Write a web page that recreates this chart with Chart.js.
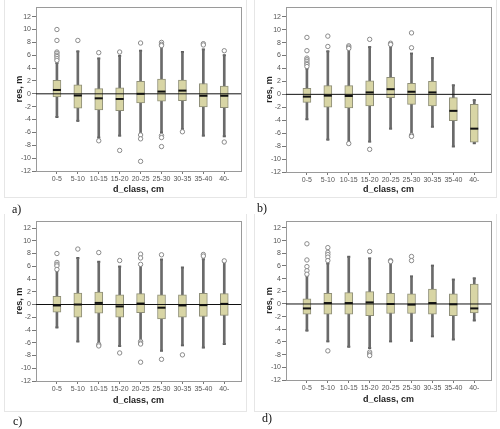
<!DOCTYPE html>
<html>
<head>
<meta charset="utf-8">
<script src="https://cdn.jsdelivr.net/npm/chart.js@4.4.1/dist/chart.umd.min.js"></script>
<style>
  body { margin: 0; background: #fff; width: 500px; height: 429px; position: relative; overflow: hidden; }
  .panel { position: absolute; width: 250px; height: 214px; }
  .panel canvas { position: absolute; left: 0; top: 0; }
  .frame { position: absolute; left: 4px; top: 0; width: 241px; height: 197px; border: 1px solid #e6e6e6; border-top: none; }
  .lbl { position: absolute; font: 12px 'Liberation Serif', serif; color: #111; }
</style>
</head>
<body>
<div class="panel" style="left:0;top:0"><div class="frame"></div><canvas id="pa" width="250" height="214"></canvas></div>
<div class="panel" style="left:250px;top:0"><div class="frame"></div><canvas id="pb" width="250" height="214"></canvas></div>
<div class="panel" style="left:0;top:214px"><div class="frame"></div><canvas id="pc" width="250" height="214"></canvas></div>
<div class="panel" style="left:250px;top:214px"><div class="frame"></div><canvas id="pd" width="250" height="214"></canvas></div>
<div class="lbl" style="left:12px;top:202px">a)</div>
<div class="lbl" style="left:257px;top:201px">b)</div>
<div class="lbl" style="left:13px;top:414px">c)</div>
<div class="lbl" style="left:262px;top:411px">d)</div>

<script>
// diameter classes
const cats = ['0-5', '5-10', '10-15', '15-20', '20-25', '25-30', '30-35', '35-40', '40-'];
const yTicks = [-12, -10, -8, -6, -4, -2, 0, 2, 4, 6, 8, 10, 12];

// panel a
const aLow  = [-3.6, -4.2, -6.8, -6.5, -6.2, -6.0, -5.5, -6.5, -6.6];
const aQ1   = [-0.5, -2.25, -2.5, -2.6, -1.4, -1.15, -1.05, -2.05, -2.15];
const aMed  = [0.6, -0.26, -0.7, -0.8, 0, 0.35, 0.5, -0.3, -0.3];
const aQ3   = [2.1, 1.4, 0.8, 0.95, 1.95, 2.3, 2.15, 1.6, 1.2];
const aHigh = [4.8, 6.6, 5.5, 5.9, 6.7, 7.6, 6.5, 6.9, 6.0];
const aOut = [
  ['0-5', 10], ['0-5', 8.3], ['0-5', 6.5], ['0-5', 6.3], ['0-5', 6.0], ['0-5', 5.8], ['0-5', 5.5], ['0-5', 5.2],
  ['5-10', 8.3],
  ['10-15', 6.4], ['10-15', -7.3],
  ['15-20', 6.5], ['15-20', -8.8],
  ['20-25', 7.9], ['20-25', -6.4], ['20-25', -7.0], ['20-25', -10.5],
  ['25-30', 8.0], ['25-30', 7.7], ['25-30', 7.5], ['25-30', -6.5], ['25-30', -6.8], ['25-30', -8.2],
  ['30-35', -5.9],
  ['35-40', 7.8], ['35-40', 7.6],
  ['40-', 6.7], ['40-', -7.5]
];

// panel b
const bLow  = [-3.85, -7.0, -7.4, -7.3, -5.3, -6.1, -5.0, -8.05, -7.55];
const bQ1   = [-1.25, -2.0, -2.1, -1.8, -0.5, -1.55, -1.8, -4.05, -7.4];
const bMed  = [-0.35, -0.2, -0.25, 0.3, 0.8, 0.4, 0.3, -2.55, -5.3];
const bQ3   = [0.95, 1.35, 1.35, 2.1, 2.65, 1.7, 2.0, -0.5, -1.55];
const bHigh = [4.0, 6.65, 7.0, 7.3, 7.4, 6.3, 5.6, 1.4, -0.9];
const bOut = [
  ['0-5', 8.8], ['0-5', 6.75], ['0-5', 5.6], ['0-5', 5.35], ['0-5', 5.1], ['0-5', 4.8], ['0-5', 4.6], ['0-5', 4.3],
  ['5-10', 9.0], ['5-10', 7.4],
  ['10-15', 7.5], ['10-15', 7.3], ['10-15', 7.1], ['10-15', -7.6],
  ['15-20', 8.5], ['15-20', -8.5],
  ['20-25', 7.9], ['20-25', 7.7],
  ['25-30', 9.5], ['25-30', 7.2], ['25-30', -6.3], ['25-30', -6.5]
];

// panel c
const cLow  = [-3.6, -5.8, -6.05, -6.5, -5.7, -7.25, -6.4, -6.75, -6.2];
const cQ1   = [-1.2, -2.0, -1.35, -2.0, -1.3, -2.25, -2.0, -1.85, -1.7];
const cMed  = [-0.15, 0, 0.25, -0.3, 0.15, -0.5, -0.15, -0.1, 0.1];
const cQ3   = [1.3, 1.8, 1.95, 1.5, 1.7, 1.5, 1.5, 1.75, 1.7];
const cHigh = [5.3, 7.3, 6.7, 5.95, 6.1, 7.05, 5.8, 7.1, 6.7];
const cOut = [
  ['0-5', 8.0], ['0-5', 6.6], ['0-5', 6.3], ['0-5', 6.05], ['0-5', 5.5],
  ['5-10', 8.7],
  ['10-15', 8.15], ['10-15', -6.3], ['10-15', -6.5],
  ['15-20', 6.9], ['15-20', -7.6],
  ['20-25', 7.9], ['20-25', 7.3], ['20-25', 6.3], ['20-25', -5.8], ['20-25', -6.05], ['20-25', -6.2], ['20-25', -9.05],
  ['25-30', 7.8], ['25-30', -8.6],
  ['30-35', -7.9],
  ['35-40', 7.85], ['35-40', 7.6],
  ['40-', 6.85]
];

// panel d
const dLow  = [-4.2, -5.9, -6.75, -6.95, -5.9, -5.8, -5.1, -5.6, -2.6];
const dQ1   = [-1.6, -1.6, -1.6, -1.85, -1.5, -1.5, -1.6, -1.85, -1.4];
const dMed  = [-0.7, 0.15, 0.15, 0.25, 0, -0.1, 0.15, -0.05, -0.7];
const dQ3   = [0.8, 1.7, 1.8, 1.95, 1.7, 1.6, 2.35, 1.6, 3.15];
const dHigh = [4.5, 6.4, 7.45, 7.2, 6.6, 4.35, 6.05, 3.85, 4.05];
const dOut = [
  ['0-5', 9.5], ['0-5', 6.95], ['0-5', 5.9], ['0-5', 5.25], ['0-5', 4.7],
  ['5-10', 8.9], ['5-10', 8.15], ['5-10', 7.8], ['5-10', 7.4], ['5-10', 6.85], ['5-10', -7.4],
  ['15-20', 8.3], ['15-20', -7.6], ['15-20', -7.9], ['15-20', -8.15],
  ['20-25', 6.85], ['20-25', 6.7],
  ['25-30', 7.5], ['25-30', 6.85]
];

const tickFont = { family: "'Liberation Sans', Arial, sans-serif", size: 7 };
const titleFont = { family: "'Liberation Sans', Arial, sans-serif", size: 9, weight: 'bold', lineHeight: 1.2 };

// grey rectangle round the plot area
const framePlugin = {
  id: 'frame',
  beforeDatasetsDraw(chart) {
    const a = chart.chartArea, ctx = chart.ctx;
    ctx.save();
    ctx.strokeStyle = '#9a9a9a';
    ctx.lineWidth = 1;
    ctx.strokeRect(Math.round(a.left) + 0.5, Math.round(a.top) + 0.5, Math.round(a.right - a.left), Math.round(a.bottom - a.top));
    ctx.restore();
  }
};

function pos(c) { return cats.indexOf(c) + 1; }

function makePanel(id, low, q1, med, q3, high, out, plotBottom, titleY, ymax) {
  const axisH = titleY + 5.4 - plotBottom;
  const padBottom = 214 - (titleY + 5.4);
  new Chart(document.getElementById(id), {
    type: 'bar',
    data: {
      datasets: [
        {
          type: 'line', order: 0,
          data: [{ x: 0, y: 0 }, { x: 9.8, y: 0 }],
          borderColor: '#111', borderWidth: 1, pointRadius: 0
        },
        {
          type: 'line', order: 1, showLine: false,
          data: out.map(o => ({ x: pos(o[0]), y: o[1] })),
          pointStyle: 'circle', pointRadius: 2.2, borderWidth: 1,
          borderColor: '#8a8a8a', backgroundColor: '#fff'
        },
        {
          type: 'line', order: 2, showLine: false,
          data: med.map((v, i) => ({ x: i + 1, y: v })),
          pointStyle: 'line', pointRadius: 4, borderWidth: 2, borderColor: '#111'
        },
        {
          order: 3, grouped: false, barThickness: 8,
          data: q1.map((v, i) => ({ x: i + 1, y: [v, q3[i]] })),
          backgroundColor: '#d8d5a5', borderColor: '#8f8f78', borderWidth: 1, borderSkipped: false
        },
        {
          order: 4, grouped: false, barThickness: 2,
          data: low.map((v, i) => ({ x: i + 1, y: [v, high[i]] })),
          backgroundColor: '#6a6a6a', borderWidth: 0
        },
        {
          type: 'line', order: 5, showLine: false,
          data: low.map((v, i) => ({ x: i + 1, y: v })).concat(high.map((v, i) => ({ x: i + 1, y: v }))),
          pointStyle: 'line', pointRadius: 1.5, borderWidth: 2, borderColor: '#555'
        }
      ]
    },
    options: {
      responsive: false,
      animation: false,
      events: [],
      layout: { padding: { left: 0, top: 7, right: 9, bottom: padBottom } },
      plugins: { legend: { display: false }, tooltip: { enabled: false } },
      scales: {
        x: {
          type: 'linear', min: 0, max: 9.8, offset: false,
          afterBuildTicks: s => { s.ticks = cats.map((c, i) => ({ value: i + 1 })); },
          afterFit: s => { s.height = axisH; },
          ticks: {
            callback: v => cats[v - 1], autoSkip: false, maxRotation: 0,
            font: tickFont, color: '#555', padding: 1
          },
          grid: { offset: false, drawOnChartArea: false, drawTicks: true, tickLength: 3, color: '#777' },
          border: { display: true, color: '#9a9a9a' },
          title: { display: true, text: 'd_class, cm', font: titleFont, color: '#222', padding: { top: 0, bottom: 0 } }
        },
        y: {
          type: 'linear', min: -12, max: ymax,
          afterBuildTicks: s => { s.ticks = yTicks.map(v => ({ value: v })); },
          afterFit: s => { s.width = 36; },
          ticks: { font: tickFont, color: '#555', padding: 1 },
          grid: { drawOnChartArea: false, drawTicks: true, tickLength: 4, color: '#777' },
          border: { display: true, color: '#9a9a9a' },
          title: { display: true, text: 'res, m', font: titleFont, color: '#222', padding: { top: 14.6, bottom: 0 } }
        }
      }
    },
    plugins: [framePlugin]
  });
}

makePanel('pa', aLow, aQ1, aMed, aQ3, aHigh, aOut, 171, 190, 13.5);
makePanel('pb', bLow, bQ1, bMed, bQ3, bHigh, bOut, 172, 190, 13.5);
makePanel('pc', cLow, cQ1, cMed, cQ3, cHigh, cOut, 167, 187, 13.1);
makePanel('pd', dLow, dQ1, dMed, dQ3, dHigh, dOut, 166, 186, 13.1);
</script>
</body>
</html>
